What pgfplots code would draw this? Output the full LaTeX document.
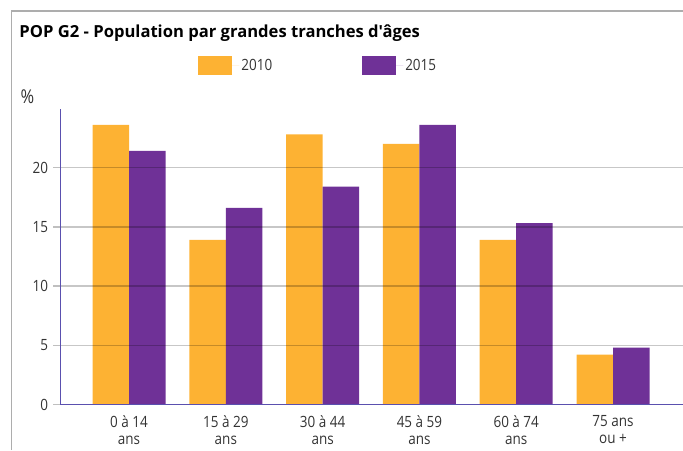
\documentclass[border=0pt]{standalone}
\usepackage{pgfplots}
\pgfplotsset{compat=1.18}
\usepackage{fontspec}
\setmainfont{Open Sans}[FakeStretch=0.87]
\newfontfamily\titlefont{Open Sans}[FakeStretch=1.0]
\definecolor{orangebar}{RGB}{253,178,51}
\definecolor{purplebar}{RGB}{111,49,151}
\definecolor{axisblue}{RGB}{90,80,175}
\definecolor{txt}{RGB}{51,51,51}
\begin{document}
\begin{tikzpicture}[x=1pt,y=1pt]
\path[use as bounding box] (0,0) rectangle (683,450);
\draw[black!32, line width=1.5pt] (11.7,0) -- (11.7,439) -- (683,439);
\node[anchor=base west, inner sep=0pt, font=\titlefont\fontsize{16.6}{20}\selectfont\bfseries, text=black] at (19.3,412.3) {POP G2 - Population par grandes tranches d'âges};
\node[anchor=center, inner sep=0pt, font=\fontsize{19}{22}\selectfont, text=txt] at (27.5,353.5) {\%};
\begin{axis}[
  at={(60.5pt,45.5pt)}, anchor=south west,
  scale only axis, width=622.5pt, height=295pt,
  xmin=-0.708, xmax=5.723, ymin=0, ymax=24.9,
  ybar=0pt, bar width=36.5pt,
  axis x line=bottom, axis y line=left,
  axis line style={-, axisblue, line width=1.5pt},
  axis on top,
  xtick={0,1,2,3,4,5},
  xticklabels={{0 à 14\\ans},{15 à 29\\ans},{30 à 44\\ans},{45 à 59\\ans},{60 à 74\\ans},{75 ans\\ou +}},
  x tick style={draw=none},
  ytick={0,5,10,15,20},
  y tick style={draw=black!25, line width=1.5pt},
  tick align=outside, major tick length=7.5pt,
  ymajorgrids, grid style={draw=black, opacity=0.22, line width=1.5pt},
  /pgf/number format/assume math mode=true,
  yticklabel style={font=\fontsize{15.5}{18}\selectfont, text=txt, xshift=-1.5pt},
  xticklabel style={align=center, font=\fontsize{15.5}{17}\selectfont, text=txt, yshift=-2.5pt, inner sep=1pt},
  legend columns=2,
  legend style={at={(0.4141,1.150)}, anchor=center, draw=none, fill=none,
    font=\fontsize{15.5}{18}\selectfont, text=txt,
    /tikz/every even column/.append style={column sep=88pt}},
  legend image code/.code={\fill[#1] (0pt,-9.5pt) rectangle (34pt,9.5pt); \path (0pt,0pt) -- (41pt,0pt);},
]
\addplot[fill=orangebar, draw=none] coordinates {(0,23.6) (1,13.9) (2,22.8) (3,22.0) (4,13.9) (5,4.2)};
\addplot[fill=purplebar, draw=none] coordinates {(0,21.4) (1,16.6) (2,18.4) (3,23.6) (4,15.3) (5,4.8)};
\legend{2010,2015}
\end{axis}
\end{tikzpicture}
\end{document}
